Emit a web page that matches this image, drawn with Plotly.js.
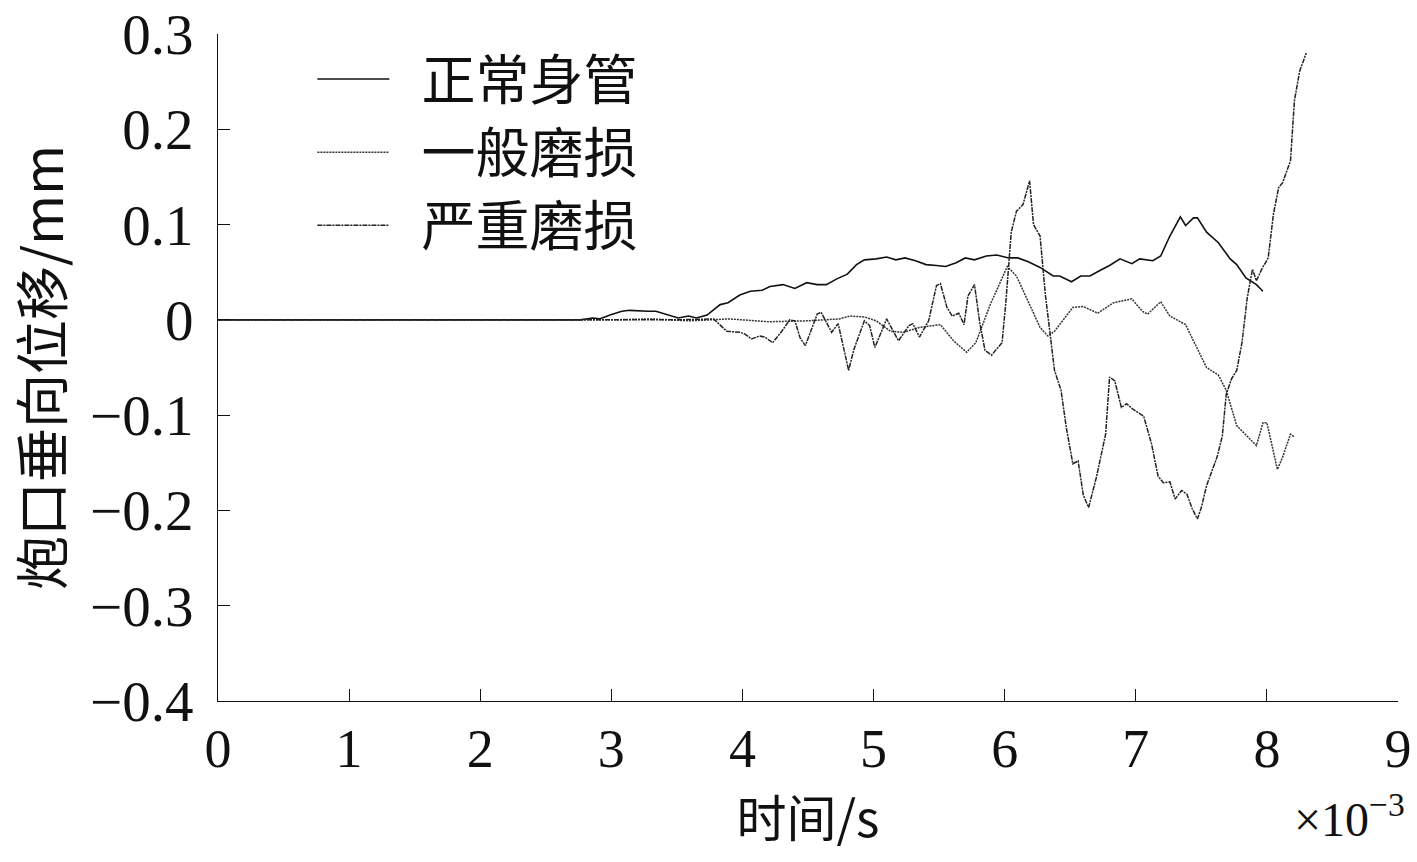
<!DOCTYPE html>
<html>
<head>
<meta charset="utf-8">
<script src="https://cdn.plot.ly/plotly-3.0.1.min.js"></script>
<style>html,body{margin:0;padding:0;background:#fff;}#chart{width:1417px;height:862px;}</style>
</head>
<body>
<div id="chart"></div>
<script>
// Time (×10^-3 s) and vertical muzzle displacement (mm)
const seriesNames = ["正常身管", "一般磨损", "严重磨损"];

const tNormal = [0, 1, 2, 2.76, 2.86, 2.91, 2.99, 3.08, 3.14, 3.22, 3.28, 3.34, 3.42, 3.51, 3.59, 3.65, 3.73, 3.78, 3.83, 3.89, 3.98, 4.06, 4.15, 4.21, 4.31, 4.40, 4.49, 4.57, 4.64, 4.72, 4.80, 4.87, 4.93, 5.02, 5.10, 5.17, 5.24, 5.32, 5.40, 5.48, 5.55, 5.63, 5.70, 5.77, 5.86, 5.94, 6.03, 6.10, 6.18, 6.27, 6.37, 6.42, 6.51, 6.58, 6.65, 6.73, 6.80, 6.88, 6.97, 7.03, 7.13, 7.19, 7.26, 7.34, 7.38, 7.44, 7.47, 7.54, 7.63, 7.72, 7.77, 7.84, 7.92, 7.97];
const vNormal = [0, 0, 0, 0, 0.002, 0.001, 0.005, 0.009, 0.010, 0.009, 0.009, 0.009, 0.006, 0.002, 0.004, 0.002, 0.005, 0.011, 0.016, 0.018, 0.026, 0.030, 0.031, 0.035, 0.037, 0.033, 0.039, 0.037, 0.037, 0.043, 0.048, 0.058, 0.063, 0.064, 0.066, 0.063, 0.065, 0.062, 0.058, 0.057, 0.056, 0.060, 0.065, 0.063, 0.067, 0.068, 0.065, 0.065, 0.061, 0.055, 0.046, 0.046, 0.040, 0.046, 0.046, 0.052, 0.057, 0.064, 0.059, 0.064, 0.062, 0.067, 0.088, 0.108, 0.099, 0.107, 0.107, 0.092, 0.081, 0.064, 0.058, 0.044, 0.037, 0.030];

const tGeneral = [0, 2, 3, 3.3, 3.6, 3.9, 4.2, 4.5, 4.74, 4.82, 4.93, 5.02, 5.13, 5.23, 5.35, 5.51, 5.61, 5.71, 5.78, 5.89, 6.02, 6.09, 6.19, 6.27, 6.33, 6.38, 6.52, 6.60, 6.71, 6.83, 6.97, 7.05, 7.09, 7.19, 7.26, 7.38, 7.44, 7.54, 7.63, 7.69, 7.77, 7.82, 7.92, 7.97, 8.00, 8.08, 8.12, 8.18, 8.21];
const vGeneral = [0, 0, 0, 0.001, -0.001, 0.001, -0.002, -0.001, 0.001, 0.004, 0.003, -0.001, -0.012, -0.013, -0.008, -0.005, -0.022, -0.034, -0.024, 0.016, 0.056, 0.046, 0.016, -0.008, -0.017, -0.012, 0.013, 0.014, 0.007, 0.018, 0.022, 0.009, 0.006, 0.019, 0.004, -0.005, -0.022, -0.050, -0.058, -0.074, -0.111, -0.118, -0.132, -0.108, -0.108, -0.157, -0.144, -0.120, -0.123];

const tSevere = [0, 2, 3, 3.5, 3.78, 3.88, 3.98, 4.02, 4.07, 4.13, 4.17, 4.23, 4.30, 4.36, 4.40, 4.44, 4.48, 4.57, 4.60, 4.68, 4.73, 4.81, 4.85, 4.93, 4.97, 5.01, 5.10, 5.19, 5.27, 5.30, 5.35, 5.42, 5.48, 5.51, 5.56, 5.60, 5.65, 5.69, 5.72, 5.77, 5.81, 5.85, 5.90, 5.98, 6.01, 6.05, 6.09, 6.14, 6.19, 6.22, 6.27, 6.31, 6.38, 6.43, 6.47, 6.52, 6.56, 6.60, 6.64, 6.70, 6.77, 6.80, 6.84, 6.89, 6.93, 6.98, 7.06, 7.12, 7.17, 7.21, 7.26, 7.30, 7.35, 7.39, 7.43, 7.47, 7.50, 7.54, 7.62, 7.66, 7.69, 7.73, 7.77, 7.81, 7.85, 7.89, 7.92, 7.96, 8.01, 8.05, 8.09, 8.12, 8.18, 8.21, 8.25, 8.30];
const vSevere = [0, 0, 0, 0, 0.001, -0.012, -0.013, -0.015, -0.020, -0.017, -0.018, -0.024, -0.012, 0, -0.001, -0.019, -0.027, 0.006, 0.008, -0.013, -0.004, -0.053, -0.031, -0.001, -0.006, -0.029, 0.001, -0.022, -0.006, -0.004, -0.018, -0.001, 0.036, 0.038, 0.013, 0.004, 0.007, -0.005, 0.025, 0.037, -0.003, -0.032, -0.037, -0.024, 0.020, 0.092, 0.114, 0.121, 0.146, 0.100, 0.088, 0.027, -0.053, -0.074, -0.113, -0.151, -0.148, -0.184, -0.197, -0.165, -0.120, -0.060, -0.064, -0.092, -0.088, -0.094, -0.101, -0.130, -0.164, -0.171, -0.170, -0.188, -0.179, -0.183, -0.198, -0.209, -0.197, -0.174, -0.144, -0.122, -0.078, -0.062, -0.053, -0.024, 0.023, 0.053, 0.041, 0.053, 0.065, 0.111, 0.139, 0.144, 0.167, 0.230, 0.261, 0.280];

const xTickVals = [0, 1, 2, 3, 4, 5, 6, 7, 8, 9];
const yTickVals = [-0.4, -0.3, -0.2, -0.1, 0, 0.1, 0.2, 0.3];
const yTickText = ["\u22120.4", "\u22120.3", "\u22120.2", "\u22120.1", "0", "0.1", "0.2", "0.3"];

[[tNormal, vNormal], [tGeneral, vGeneral], [tSevere, vSevere]].forEach(function (p, i) {
  if (p[0].length !== p[1].length) throw new Error("length mismatch in series " + i + ": " + p[0].length + " vs " + p[1].length);
});

const FONT = "Liberation Serif, Times New Roman, Noto Sans CJK SC, serif";
const CJK = "Noto Sans CJK SC, sans-serif";
const GAP = "\u2002";

const traces = [
  {x: tNormal, y: vNormal, name: GAP + seriesNames[0], mode: "lines", line: {color: "#111", width: 1.6, dash: "solid"}},
  {x: tGeneral, y: vGeneral, name: GAP + seriesNames[1], mode: "lines", line: {color: "#333", width: 1.5, dash: "2px,1px"}},
  {x: tSevere, y: vSevere, name: GAP + seriesNames[2], mode: "lines", line: {color: "#222", width: 1.5, dash: "5px,1px,2px,1px"}}
];

const layout = {
  width: 1417, height: 862,
  margin: {l: 218, r: 19, t: 34, b: 161},
  paper_bgcolor: "#fff", plot_bgcolor: "#fff",
  font: {family: FONT, size: 56, color: "#111"},
  showlegend: true,
  legend: {
    x: 0.08, y: 0.995, xanchor: "left", yanchor: "top",
    bgcolor: "rgba(0,0,0,0)", borderwidth: 0,
    font: {family: CJK, size: 54, color: "#111"},
    itemwidth: 72, tracegroupgap: 0
  },
  xaxis: {
    range: [0, 9], tickvals: xTickVals, ticktext: xTickVals.map(String),
    showline: true, linecolor: "#111", linewidth: 1.2, mirror: false,
    ticks: "inside", ticklen: 12, tickwidth: 1, tickcolor: "#111",
    showgrid: false, zeroline: false,
    tickfont: {family: FONT, size: 54},
    title: {text: "时间/s", font: {family: CJK, size: 50}, standoff: 18}
  },
  yaxis: {
    range: [-0.4, 0.3], tickvals: yTickVals, ticktext: yTickText,
    showline: true, linecolor: "#111", linewidth: 1.2, mirror: false,
    ticks: "inside", ticklen: 12, tickwidth: 1, tickcolor: "#111",
    ticklabelstandoff: 12,
    showgrid: false, zeroline: false,
    tickfont: {family: FONT, size: 57},
    title: {text: "炮口垂向位移/mm", font: {family: CJK, size: 54}, standoff: 22}
  },
  annotations: [
    {xref: "paper", yref: "paper", x: 1.008, y: -0.125, xanchor: "right", yanchor: "top",
     text: "×10<sup>\u22123</sup>", showarrow: false, font: {family: FONT, size: 48}}
  ]
};

Plotly.newPlot("chart", traces, layout, {staticPlot: true});
</script>
</body>
</html>
